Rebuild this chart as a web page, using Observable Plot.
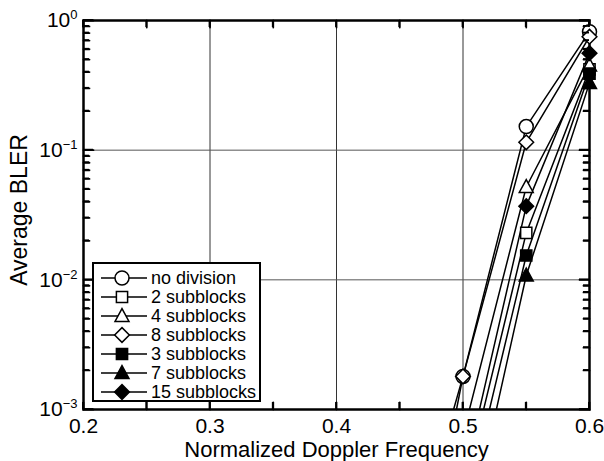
<!DOCTYPE html>
<html><head><meta charset="utf-8">
<script src="https://cdn.jsdelivr.net/npm/d3@7"></script>
<script src="https://cdn.jsdelivr.net/npm/@observablehq/plot@0.6"></script>
<style>
body{margin:0;background:#fff}
#wrap{position:relative;width:604px;height:461px}
</style>
</head><body><div id="wrap"></div>
<script>
// ---- data ----
const seriesNames = ["no division","2 subblocks","4 subblocks","8 subblocks","3 subblocks","7 subblocks","15 subblocks"];
const seriesShapes = ["circle","square","triangle","diamond","square","triangle","diamond"];
const seriesFilled = [false,false,false,false,true,true,true];
const freqNoDivision = [0.45, 0.5, 0.55, 0.6];
const blerNoDivision = [3.5e-5, 1.8e-3, 0.152, 0.82];
const freq8 = [0.45, 0.5, 0.55, 0.6];
const bler8 = [6e-6, 1.8e-3, 0.115, 0.75];
const freqOthers = [0.5, 0.55, 0.6];
const bler2 = [2.2e-4, 0.023, 0.42];
const bler4 = [6.4e-4, 0.052, 0.45];
const bler3 = [1.4e-4, 0.0154, 0.39];
const bler7 = [7e-5, 0.0108, 0.33];
const bler15 = [2.8e-4, 0.037, 0.56];
const xTicks = [0.2, 0.3, 0.4, 0.5, 0.6];
const xMinorTicks = [0.25, 0.35, 0.45, 0.55];
const yTicks = [1e-3, 1e-2, 1e-1, 1];
const yTickLabels = ["10^-3", "10^-2", "10^-1", "10^0"];

const seriesX = [freqNoDivision, freqOthers, freqOthers, freq8, freqOthers, freqOthers, freqOthers];
const seriesY = [blerNoDivision, bler2, bler4, bler8, bler3, bler7, bler15];

const rows = [];
seriesNames.forEach((name, i) => {
  seriesX[i].forEach((x, j) => rows.push({series: name, idx: i, x, y: seriesY[i][j]}));
});
const yMinor = [];
for (let e = -3; e < 0; e++) for (let m = 2; m <= 9; m++) yMinor.push(m * Math.pow(10, e));

// custom marker shapes (size = area)
function shape(kind) {
  return {
    draw(ctx, size) {
      const r = Math.sqrt(size / Math.PI);
      if (kind === "circle") { ctx.moveTo(r, 0); ctx.arc(0, 0, r, 0, 2 * Math.PI); }
      else if (kind === "square") { const h = r * 0.8; ctx.rect(-h, -h, 2 * h, 2 * h); }
      else if (kind === "triangle") { const a = r * 1.05; ctx.moveTo(0, -a); ctx.lineTo(a * 0.95, a * 0.75); ctx.lineTo(-a * 0.95, a * 0.75); ctx.closePath(); }
      else { const a = r * 1.05; ctx.moveTo(0, -a); ctx.lineTo(a, 0); ctx.lineTo(0, a); ctx.lineTo(-a, 0); ctx.closePath(); }
    }
  };
}

const markerR = 7;
const yMin = yTicks[0];
const lineMarks = seriesNames.map((name, i) =>
  Plot.line(rows.filter(d => d.idx === i), {x: "x", y: "y", stroke: "black", strokeWidth: 1.5, clip: true}));
const dotMarks = seriesNames.map((name, i) =>
  Plot.dot(rows.filter(d => d.idx === i && d.y >= yMin), {x: "x", y: "y", r: markerR, symbol: shape(seriesShapes[i]),
    fill: seriesFilled[i] ? "black" : "white", stroke: "black", strokeWidth: 1.5}));

// inward tick marks as Plot vectors (straight line shape)
const tickShape = {draw(ctx, l) { ctx.moveTo(0, 0); ctx.lineTo(0, -l); }};
function tickVectors() {
  const o = {shape: tickShape, anchor: "start", stroke: "black", strokeWidth: 1.8};
  const xAll = xMinorTicks.concat(xTicks);
  return [
    Plot.vector(yTicks, {...o, y: d => d, frameAnchor: "left", rotate: 90, length: 10}),
    Plot.vector(yMinor, {...o, y: d => d, frameAnchor: "left", rotate: 90, length: 6}),
    Plot.vector(yTicks, {...o, y: d => d, frameAnchor: "right", rotate: -90, length: 10}),
    Plot.vector(yMinor, {...o, y: d => d, frameAnchor: "right", rotate: -90, length: 6}),
    Plot.vector(xAll, {...o, x: d => d, frameAnchor: "bottom", rotate: 0, length: 7}),
    Plot.vector(xAll, {...o, x: d => d, frameAnchor: "top", rotate: 180, length: 7})
  ];
}

function build(withVectors) {
  return Plot.plot({
    width: 604, height: 461,
    marginLeft: 83, marginRight: 15, marginTop: 20, marginBottom: 52,
    style: {fontFamily: "'Liberation Sans', Arial, sans-serif", fontSize: "21px", color: "black", background: "white"},
    x: {domain: [0.2, 0.6], label: null},
    y: {type: "log", domain: [1e-3, 1], label: null},
    marks: [
      Plot.ruleX(xTicks.slice(1, -1), {stroke: "#333", strokeWidth: 1}),
      Plot.ruleY(yTicks.slice(1, -1), {stroke: "#555", strokeWidth: 1}),
      Plot.axisX({anchor: "bottom", ticks: xTicks, tickSize: 0, tickPadding: 9, tickFormat: d => String(d), fontSize: 21}),
      Plot.axisY({anchor: "left", ticks: yTicks, tickSize: 0, tickPadding: 6, tickFormat: d => yTickLabels[yTicks.indexOf(d)], fontSize: 21}),
      ...(withVectors ? tickVectors() : []),
      ...lineMarks,
      Plot.frame({stroke: "black", strokeWidth: 2.5}),
      ...dotMarks,
      Plot.text(["Normalized Doppler Frequency"], {frameAnchor: "bottom", lineAnchor: "middle", dy: 40, fontSize: 22, text: d => d}),
      Plot.text(["Average BLER"], {frameAnchor: "left", textAnchor: "middle", lineAnchor: "middle", dx: -64, dy: -5, rotate: -90, fontSize: 23, text: d => d})
    ]
  });
}

let plot;
try { plot = build(true); } catch (e) { plot = build(false); }

const svg = d3.select(plot);
const xs = plot.scale("x"), ys = plot.scale("y");
const x0 = xs.apply(xTicks[0]), x1 = xs.apply(xTicks[xTicks.length - 1]);
const y0 = ys.apply(yTicks[0]), y1 = ys.apply(yTicks[yTicks.length - 1]);

// inward ticks also drawn directly through Plot's scales
const tg = svg.append("g");
function tick(xa, xb, ya, yb) {
  tg.append("line").attr("x1", xa).attr("x2", xb).attr("y1", ya).attr("y2", yb)
    .attr("stroke", "black").attr("stroke-width", 1.8);
}
yTicks.forEach(v => {
  const y = ys.apply(v);
  tick(x0, x0 + 10, y, y);
  tick(x1 - 10, x1, y, y);
});
yMinor.forEach(v => {
  const y = ys.apply(v);
  tick(x0, x0 + 6, y, y);
  tick(x1 - 6, x1, y, y);
});
xMinorTicks.concat(xTicks).forEach(v => {
  const x = xs.apply(v);
  tick(x, x, y0, y0 - 7);
  tick(x, x, y1, y1 + 7);
});

// superscript tick labels
svg.selectAll("g[aria-label='y-axis tick label'] text").each(function() {
  const t = this.textContent;
  if (!t.includes("^")) return;
  const [base, exp] = t.split("^");
  const sel = d3.select(this);
  sel.text("");
  sel.append("tspan").text(base);
  sel.append("tspan").attr("font-size", 13).attr("dy", "-0.6em").text(exp.replace("-", "\u2212"));
});

// legend (inside frame, bottom-left)
const lg = svg.append("g").attr("transform", "translate(93,263)");
lg.append("rect").attr("width", 167).attr("height", 138).attr("fill", "white").attr("stroke", "black").attr("stroke-width", 2);
seriesNames.forEach((name, i) => {
  const cy = 15 + i * 19;
  const row = lg.append("g").attr("transform", `translate(0,${cy})`);
  row.append("line").attr("x1", 8).attr("x2", 54).attr("stroke", "black").attr("stroke-width", 1.5);
  row.append("path").attr("transform", "translate(29,0)")
    .attr("d", d3.symbol(shape(seriesShapes[i]), Math.PI * markerR * markerR)())
    .attr("fill", seriesFilled[i] ? "black" : "white").attr("stroke", "black").attr("stroke-width", 1.5);
  row.append("text").attr("x", 58).attr("dy", "0.36em").attr("font-size", 18).attr("text-anchor", "start")
    .attr("font-family", "'Liberation Sans', Arial, sans-serif").text(name);
});

document.getElementById("wrap").appendChild(plot);
</script>
</body></html>
